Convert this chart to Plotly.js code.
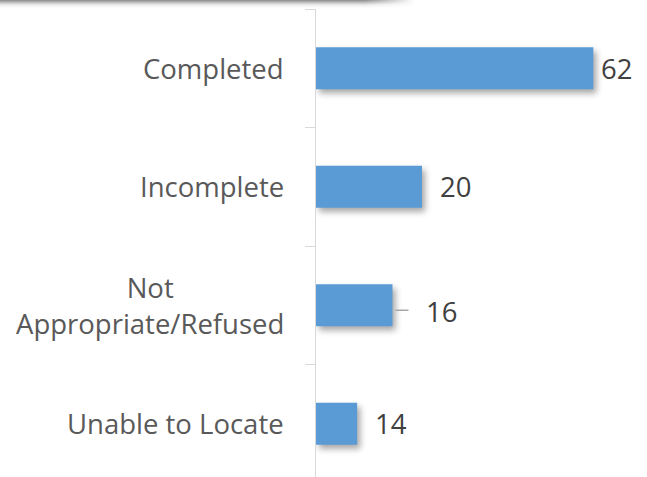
<!DOCTYPE html>
<html>
<head>
<meta charset="utf-8">
<script src="https://cdn.plot.ly/plotly-3.0.1.min.js"></script>
<style>
  html, body { margin: 0; padding: 0; background: #fff; overflow: hidden; }
  #wrap { position: relative; width: 647px; height: 477px; }
  #chart { width: 647px; height: 477px; }
  #shadowband {
    position: absolute; left: 0; top: 0; width: 415px; height: 8px;
    background: linear-gradient(to bottom, rgba(120,120,120,0.85), rgba(200,200,200,0.35) 60%, rgba(255,255,255,0));
    -webkit-mask-image: linear-gradient(to right, #000 88%, transparent 100%);
    mask-image: linear-gradient(to right, #000 88%, transparent 100%);
    pointer-events: none; z-index: 5;
  }
  .bars path { filter: drop-shadow(3px 4px 3px rgba(0,0,0,0.35)); }
</style>
</head>
<body>
<div id="wrap">
  <div id="chart"></div>
  <div id="shadowband"></div>
</div>
<script>
// ---- data ----
var categories = ["Completed", "Incomplete", "Not<br>Appropriate/Refused", "Unable to Locate"];
// bar lengths as drawn (same scale as the 62 bar)
var barValues = [62, 23.7, 17.1, 9.2];
// data labels as printed next to the bars
var labelText = ["62", "20", "16", "14"];

// ---- styling ----
var BLUE = "#5B9BD5";
var FONT = "Open Sans, Noto Sans, sans-serif";
var labelPadPx = [6, 16, 32, 16];
var labelShiftPx = [0, 0, -6, 0];
var leaderIndex = 2;

var trace = {
  type: "bar",
  orientation: "h",
  x: barValues,
  y: categories,
  marker: { color: BLUE, line: { width: 0 } },
  hoverinfo: "skip"
};

var annotations = [];
categories.forEach(function (c, i) {
  annotations.push({
    xref: "paper", yref: "y", x: 0, y: c,
    xanchor: "right", yanchor: "middle", xshift: -30,
    align: "center", showarrow: false,
    text: c,
    font: { family: FONT, size: 27.5, color: "#595959" }
  });
  annotations.push({
    xref: "x", yref: "y", x: barValues[i], y: c,
    xanchor: "left", yanchor: "middle",
    xshift: labelPadPx[i], yshift: labelShiftPx[i],
    showarrow: false, text: labelText[i],
    font: { family: FONT, size: 27.5, color: "#404040" }
  });
});

var shapes = [{
  type: "line", xref: "x", yref: "y",
  xsizemode: "pixel", ysizemode: "pixel",
  xanchor: barValues[leaderIndex], yanchor: categories[leaderIndex],
  x0: 3, x1: 16, y0: -5, y1: -5,
  line: { color: "#A6A6A6", width: 1.5 }
}];

var layout = {
  width: 647, height: 477,
  margin: { l: 316, r: 0, t: 9, b: 0, pad: 0 },
  paper_bgcolor: "#fff", plot_bgcolor: "#fff",
  showlegend: false,
  bargap: 0.646,
  xaxis: { range: [0, 74], visible: false, fixedrange: true },
  yaxis: {
    type: "category",
    range: [3.449, -0.5],
    showticklabels: false,
    showgrid: false, zeroline: false,
    showline: true, linecolor: "#D9D9D9", linewidth: 1,
    ticks: "outside", tickson: "boundaries", ticklen: 10,
    tickcolor: "#D9D9D9", tickwidth: 1,
    fixedrange: true
  },
  annotations: annotations,
  shapes: shapes
};

Plotly.newPlot("chart", [trace], layout, { displayModeBar: false, staticPlot: true });
</script>
</body>
</html>
